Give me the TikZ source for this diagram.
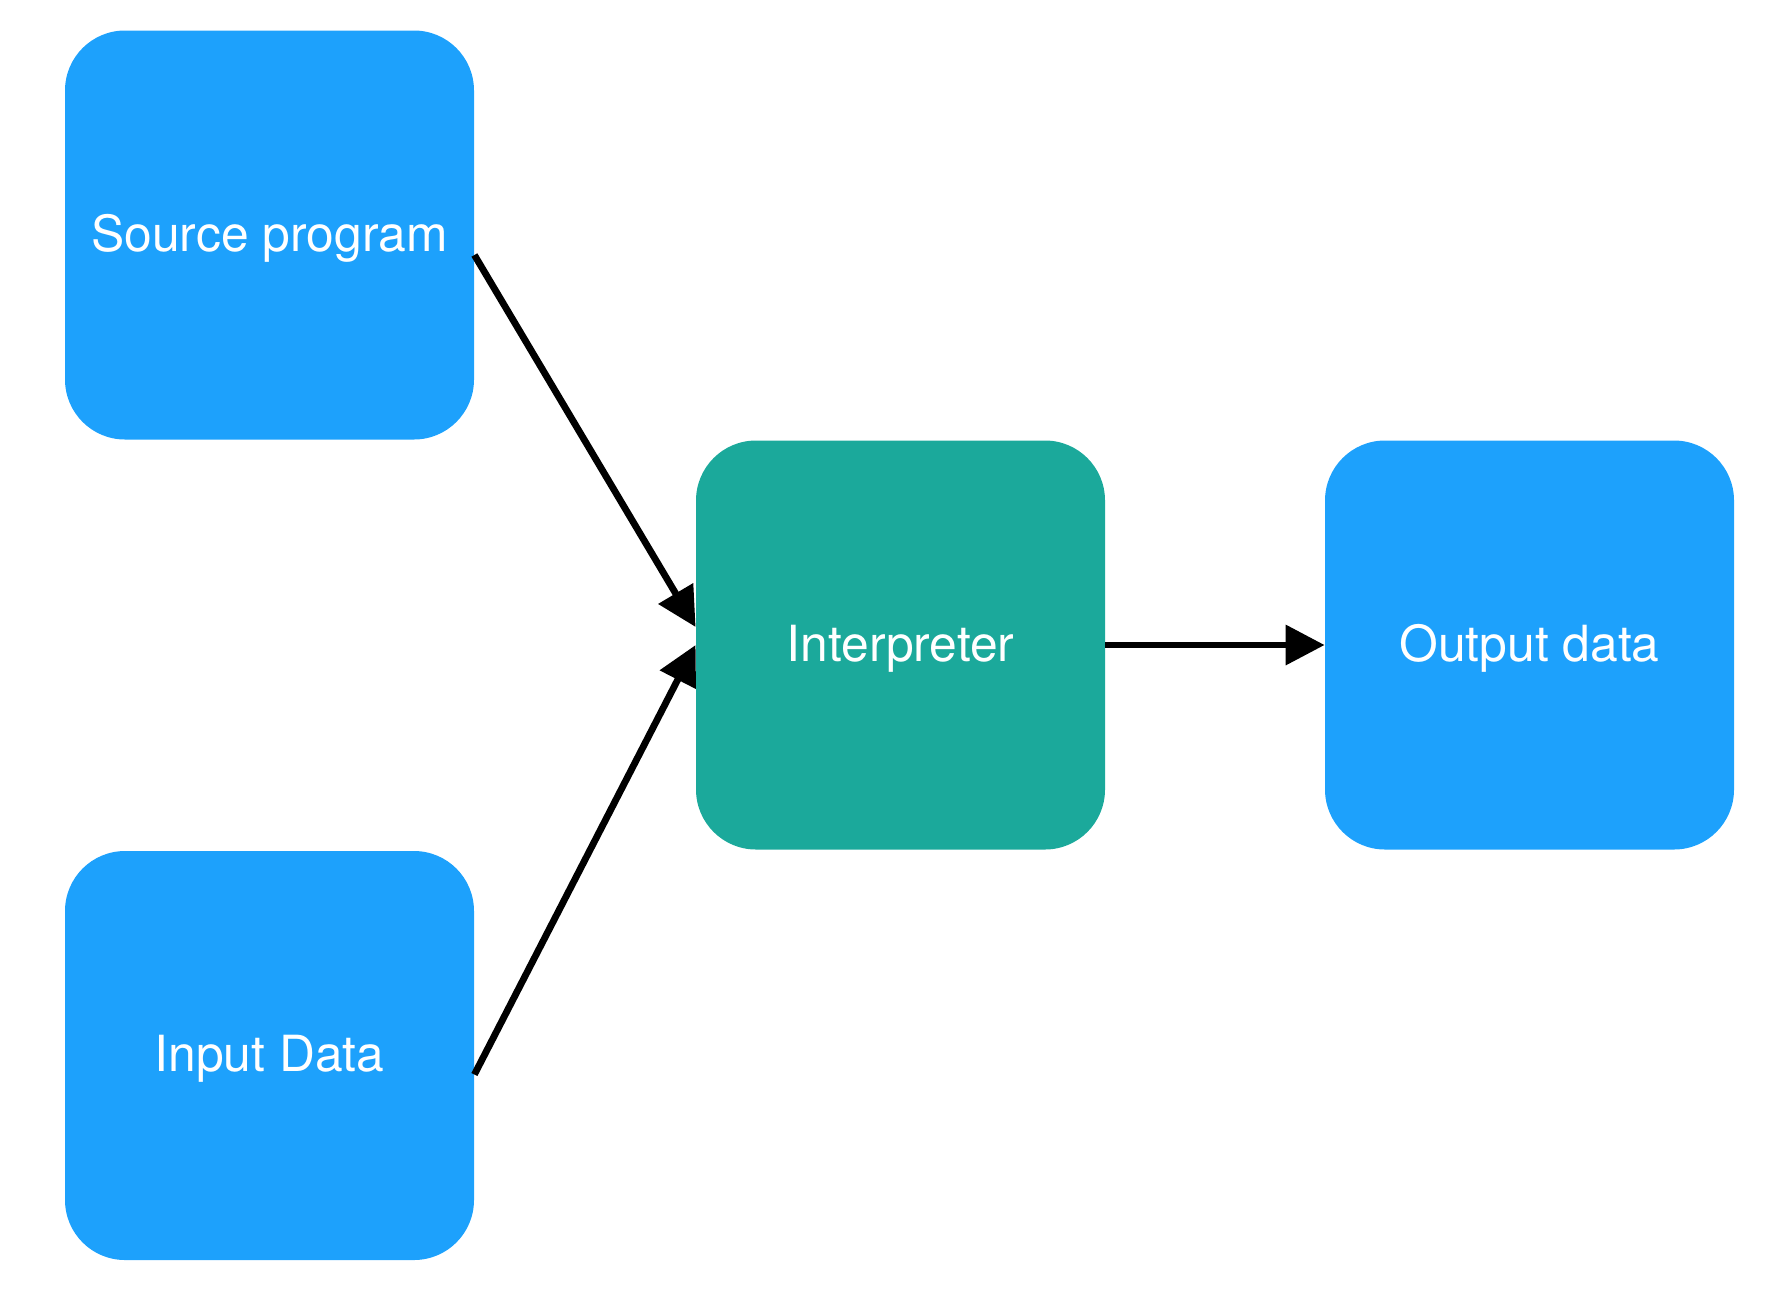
\documentclass[tikz,border=0pt]{standalone}
\usepackage{fontspec}
\setmainfont{TeX Gyre Heros}
\usetikzlibrary{arrows.meta}

\definecolor{boxblue}{HTML}{1DA1FC}
\definecolor{boxteal}{HTML}{1BA99B}

\tikzstyle{box} = [draw=none, fill=boxblue, text=white, text centered, rounded corners=30pt, minimum width=204.5pt, minimum height=204.5pt, inner sep=0pt, text height=18pt, text depth=1.6pt, font=\fontsize{24.9}{29}\selectfont]
\tikzstyle{core} = [box, fill=boxteal]
\tikzstyle{flow} = [draw, line width=3.4pt, -{Triangle[length=19.5pt,width=19.5pt]}]

\begin{document}
\begin{tikzpicture}[x=0.5pt, y=-0.5pt]
    \useasboundingbox (0,0) rectangle (1788,1292);
    \node[box] (source) at (269.5,235) {Source program};
    \node[box] (input) at (269.5,1055.5) {Input Data};
    \node[core] (interp) at (900.5,645) {Interpreter};
    \node[box] (output) at (1529.5,645) {Output data};

    \draw[flow] ([yshift=-10pt]source.east) -- ([yshift=9pt]interp.west);
    \draw[flow] ([yshift=-9.5pt]input.east) -- (interp.west);
    \draw[flow] (interp.east) -- (output.west);
\end{tikzpicture}
\end{document}
